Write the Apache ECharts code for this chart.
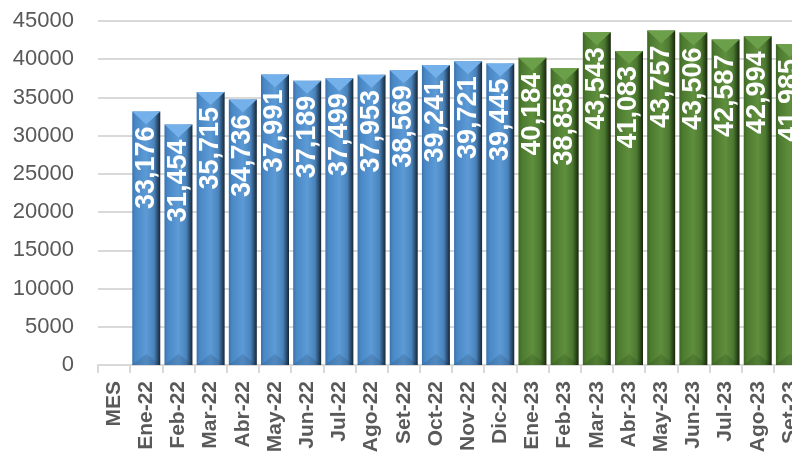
<!DOCTYPE html>
<html>
<head>
<meta charset="utf-8">
<script src="https://cdn.jsdelivr.net/npm/echarts@6/dist/echarts.min.js"></script>
<style>
  html, body { margin: 0; padding: 0; background: #fff; overflow: hidden; }
  /* wider than the window: the source image is cropped through the Set-23 bar */
  #chart { width: 806px; height: 456px; }
</style>
</head>
<body>
<div id="chart"></div>
<script>
// categories (first slot is the axis title "MES")
const months = ['MES', 'Ene-22', 'Feb-22', 'Mar-22', 'Abr-22', 'May-22', 'Jun-22', 'Jul-22', 'Ago-22',
    'Set-22', 'Oct-22', 'Nov-22', 'Dic-22', 'Ene-23', 'Feb-23', 'Mar-23', 'Abr-23', 'May-23',
    'Jun-23', 'Jul-23', 'Ago-23', 'Set-23'];
const values2022 = [33176, 31454, 35715, 34736, 37991, 37189, 37499, 37953, 38569, 39241, 39721, 39445];
const values2023 = [40184, 38858, 43543, 41083, 43757, 43506, 42587, 42994, 41985];
const yTicks = { min: 0, max: 45000, interval: 5000 };

// pad each year onto the full category axis
const blueData = ['-'].concat(values2022, values2023.map(() => '-'));
const greenData = ['-'].concat(values2022.map(() => '-'), values2023);

function grad(stops) {
    return new echarts.graphic.LinearGradient(0, 0, 1, 0, stops.map(c => ({ offset: c[0], color: c[1] })));
}
const blueFill = grad([[0, '#3a73ad'], [0.12, '#4a88c6'], [0.5, '#5c9bd6'], [0.78, '#4a83bb'], [0.9, '#2c5074'], [1, '#172634']]);
const greenFill = grad([[0, '#3d6524'], [0.12, '#4c7a2f'], [0.5, '#5f8f3d'], [0.78, '#4b7830'], [0.9, '#2f4c1c'], [1, '#17250c']]);

const fmt = v => Number(v).toLocaleString('en-US');

const barLabel = {
    show: true,
    position: 'insideTop',
    rotate: 90,
    align: 'right',
    verticalAlign: 'middle',
    distance: 15,
    color: '#fff',
    fontFamily: 'Liberation Sans',
    fontWeight: 'bold',
    fontSize: 27,
    formatter: p => fmt(p.value)
};

const topTri = 'path://M0,0 L20,0 L10,10 Z';
const botTri = 'path://M0,10 L20,10 L10,0 Z';

const myChart = echarts.init(document.getElementById('chart'));
myChart.setOption({
    animation: false,
    grid: { left: 98, right: 0, top: 21, bottom: 91, containLabel: false },
    xAxis: {
        type: 'category',
        data: months,
        axisLine: { lineStyle: { color: '#d9d9d9', width: 2 } },
        axisTick: { show: true, length: 8, lineStyle: { color: '#d9d9d9', width: 2 } },
        axisLabel: {
            rotate: 90,
            margin: 16,
            color: '#595959',
            fontFamily: 'Liberation Sans',
            fontWeight: 'bold',
            fontSize: 21,
            interval: 0
        }
    },
    yAxis: {
        type: 'value',
        min: yTicks.min,
        max: yTicks.max,
        interval: yTicks.interval,
        axisLine: { show: false },
        axisTick: { show: false },
        splitLine: { lineStyle: { color: '#d9d9d9', width: 2 } },
        axisLabel: {
            margin: 24,
            color: '#595959',
            fontFamily: 'Liberation Sans',
            fontSize: 22,
            formatter: v => String(v)
        }
    },
    series: [
        {
            name: '2022', type: 'bar', stack: 'm', data: blueData, barWidth: 28,
            itemStyle: { color: blueFill }, label: barLabel, z: 2
        },
        {
            name: '2023', type: 'bar', stack: 'm', data: greenData, barWidth: 28,
            itemStyle: { color: greenFill }, label: barLabel, z: 2
        },
        {
            type: 'pictorialBar', data: blueData, symbol: topTri, symbolSize: [28, 13],
            symbolPosition: 'end', itemStyle: { color: '#74b1ea' }, z: 3, silent: true
        },
        {
            type: 'pictorialBar', data: greenData, symbol: topTri, symbolSize: [28, 13],
            symbolPosition: 'end', itemStyle: { color: '#6c9f49' }, z: 3, silent: true
        },
        {
            type: 'pictorialBar', data: blueData, symbol: botTri, symbolSize: [28, 11],
            symbolPosition: 'start', itemStyle: { color: 'rgba(20,40,70,0.15)' }, z: 3, silent: true
        },
        {
            type: 'pictorialBar', data: greenData, symbol: botTri, symbolSize: [28, 11],
            symbolPosition: 'start', itemStyle: { color: 'rgba(15,35,5,0.15)' }, z: 3, silent: true
        }
    ]
});
</script>
</body>
</html>
